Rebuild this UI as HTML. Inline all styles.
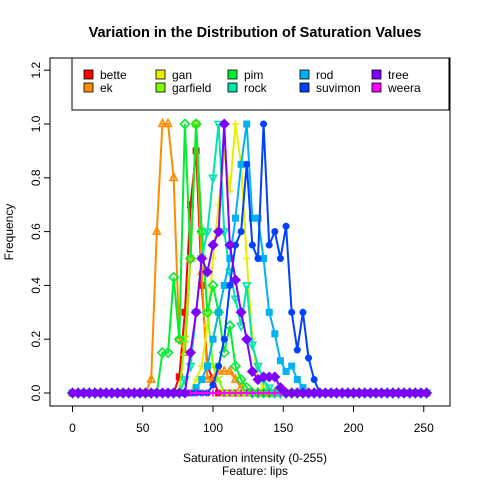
<!DOCTYPE html>
<html><head><meta charset="utf-8"><style>body{margin:0;background:#fff}svg{display:block;font-family:"Liberation Sans",Arial,sans-serif}</style></head>
<body>
<svg id="c" width="480" height="480" xmlns="http://www.w3.org/2000/svg">
<text x="255" y="37" text-anchor="middle" font-weight="bold" font-size="14.5">Variation in the Distribution of Saturation Values</text>
<rect x="50" y="58" width="400" height="348" fill="none" stroke="#000"/>
<g id="axes"></g>
<g id="series"></g>
<g id="legend"></g>
<text x="255" y="462" text-anchor="middle" font-size="12">Saturation  intensity (0-255)</text>
<text x="255" y="475" text-anchor="middle" font-size="12">Feature: lips</text>
<text x="0" y="0" transform="translate(13,232) rotate(-90)" text-anchor="middle" font-size="12">Frequency</text>
</svg>
<script>
const xTicks=[0,50,100,150,200,250];
const yTicks=[0,0.2,0.4,0.6,0.8,1.0,1.2];
const yTickLabels=["0.0","0.2","0.4","0.6","0.8","1.0","1.2"];
const names=["bette","ek","gan","garfield","pim","rock","rod","suvimon","tree","weera"];
const colors=["#FF0000","#FF8C00","#E8EE00","#7FFF00","#00EE33","#00E5B0","#00B2EE","#0040FF","#7F00FF","#FF00FF"];
const markers=["sq","tri","plus","x","dia","itri","sq","star","fdia","plus"];
const lead=[0,0,0,0,0,0,0,0,0,0,0,0,0,0];
const trail=[0,0,0,0,0,0,0,0,0,0,0,0,0,0,0,0,0,0,0];
const bette=[0,0,0,0,0,0.06,0.3,0.7,0.9,0.4,0.1,0.05,0,0,0,0,0,0,0,0,0,0,0,0,0,0,0,0,0,0,0];
const ek=[0.05,0.6,1.0,1.0,0.8,0.2,0.15,0.5,1.0,0.45,0.05,0.05,0.08,0.08,0.08,0.05,0.02,0,0,0,0,0,0,0,0,0,0,0,0,0,0];
const gan=[0,0,0,0,0,0,0,0,0.05,0.1,0.25,0.5,0.7,0.9,0.75,1.0,0.85,0.5,0.2,0.05,0.02,0,0,0,0,0,0,0,0,0,0];
const garfield=[0,0,0,0,0,0,0.2,0.5,1.0,0.6,0.3,0.1,0.05,0,0,0,0,0,0,0,0,0,0,0,0,0,0,0,0,0,0];
const pim=[0,0,0.15,0.15,0.43,0.2,1.0,0.5,1.0,0.6,0.3,0.4,0.3,0.15,0.25,0.1,0.05,0.02,0,0,0,0,0,0,0,0,0,0,0,0,0];
const rock=[0,0,0,0,0,0,0.05,0.1,0.3,0.5,0.6,0.8,1.0,0.6,0.45,0.35,0.25,0.4,0.18,0.1,0.05,0.02,0,0,0,0,0,0,0,0,0];
const rod=[0,0,0,0,0,0,0,0,0.02,0.05,0.1,0.2,0.3,0.4,0.5,0.65,0.85,1.0,0.65,0.65,0.5,0.3,0.22,0.12,0.08,0.1,0.05,0.02,0,0,0];
const suvimon=[0,0,0,0,0,0,0,0,0,0,0,0.03,0.1,0.2,0.4,0.55,0.6,0.85,0.55,0.5,1.0,0.55,0.6,0.5,0.62,0.3,0.16,0.3,0.13,0.05,0];
const tree=[0,0,0,0,0,0,0,0.15,0.3,0.5,0.45,0.55,0.6,1.0,0.55,0.42,0.3,0.2,0.08,0.05,0.06,0.06,0.06,0.02,0,0,0,0,0,0,0];
const weera=[0,0,0,0,0,0,0,0,0,0,0,0,0,0,0,0,0,0,0,0,0,0,0,0,0,0,0,0,0,0,0];
const binWidth=4;
const seriesVals=[bette,ek,gan,garfield,pim,rock,rod,suvimon,weera,tree];
const seriesIdx=[0,1,2,3,4,5,6,7,9,8];
const NS="http://www.w3.org/2000/svg";
const X=v=>72.5+v*1.405;
const Y=v=>393-v*269;
function mk(t,a,p){const e=document.createElementNS(NS,t);for(const k in a)e.setAttribute(k,a[k]);p.appendChild(e);return e;}
const ax=document.getElementById('axes');
mk('line',{x1:X(0),x2:X(250),y1:406,y2:406,stroke:'#000'},ax);
xTicks.forEach(t=>{const l=mk('line',{x1:X(t),x2:X(t),y1:406,y2:412,stroke:'#000'},ax);


const tx=mk('text',{x:X(t),y:432,'text-anchor':'middle','font-size':12},ax);tx.textContent=t;

});
mk('line',{x1:50,x2:50,y1:Y(0),y2:Y(1.2),stroke:'#000'},ax);
yTicks.forEach((t,i)=>{const l=mk('line',{x1:44,x2:50,y1:Y(t),y2:Y(t),stroke:'#000'},ax);


const tx=mk('text',{x:0,y:0,transform:`translate(40,${Y(t)}) rotate(-90)`,'text-anchor':'middle','font-size':12},ax);tx.textContent=yTickLabels[i];

});
function marker(type,x,y,c,g,s){s=s||3.5;
if(type==='sq')mk('rect',{x:x-s,y:y-s,width:2*s,height:2*s,fill:c},g);
else if(type==='tri')mk('polygon',{points:`${x},${y-s-1} ${x-s},${y+s-1} ${x+s},${y+s-1}`,fill:'none',stroke:c,'stroke-width':1.6},g);
else if(type==='itri')mk('polygon',{points:`${x},${y+s+1} ${x-s},${y-s+1} ${x+s},${y-s+1}`,fill:'none',stroke:c,'stroke-width':1.6},g);
else if(type==='plus')mk('path',{d:`M${x-s},${y}H${x+s}M${x},${y-s}V${y+s}`,stroke:c,'stroke-width':1.6},g);
else if(type==='x')mk('path',{d:`M${x-s},${y-s}L${x+s},${y+s}M${x-s},${y+s}L${x+s},${y-s}`,stroke:c,'stroke-width':1.6},g);
else if(type==='dia')mk('polygon',{points:`${x},${y-s-1} ${x+s+1},${y} ${x},${y+s+1} ${x-s-1},${y}`,fill:'none',stroke:c,'stroke-width':1.6},g);
else if(type==='fdia')mk('polygon',{points:`${x},${y-s-2} ${x+s+2},${y} ${x},${y+s+2} ${x-s-2},${y}`,fill:c},g);
else if(type==='star'){mk('path',{d:`M${x-s},${y}H${x+s}M${x},${y-s}V${y+s}M${x-s*.7},${y-s*.7}L${x+s*.7},${y+s*.7}M${x-s*.7},${y+s*.7}L${x+s*.7},${y-s*.7}`,stroke:c,'stroke-width':2.2},g);}
}
const sg=document.getElementById('series');
seriesVals.forEach((arr,k)=>{const i=seriesIdx[k];const full=lead.concat(arr,trail);
const g=mk('g',{},sg);


const pts=full.map((v,j)=>X(j*binWidth)+','+Y(v)).join(' ');
mk('polyline',{points:pts,fill:'none',stroke:colors[i],'stroke-width':2},g);
full.forEach((v,j)=>marker(markers[i],X(j*binWidth),Y(v),colors[i],g));});
const lg=document.getElementById('legend');
const box=mk('rect',{x:72,y:58,width:377,height:52,fill:'#fff',stroke:'#000'},lg);


names.forEach((n,i)=>{const col=Math.floor(i/2),row=i%2;const x=88+col*72,y=78+row*13;
const g=mk('g',{},lg);


mk('rect',{x:x-4,y:y-8,width:9,height:9,fill:colors[i],stroke:'#000','stroke-width':0.8},g);
const t=mk('text',{x:x+12,y:y+1,'font-size':12},g);t.textContent=n;});
</script>
</body></html>
